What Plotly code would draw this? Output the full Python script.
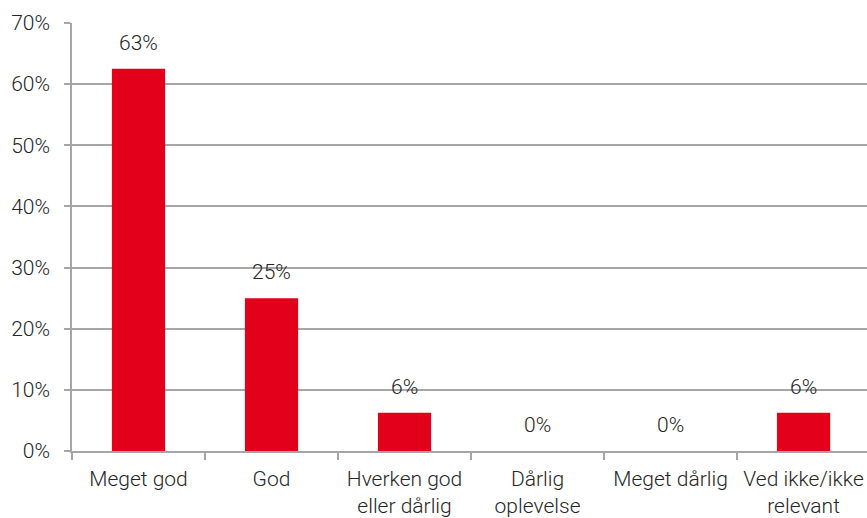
import plotly.graph_objects as go

kategorier = [
    "Meget god",
    "God",
    "Hverken god<br>eller dårlig",
    "Dårlig<br>oplevelse",
    "Meget dårlig",
    "Ved ikke/ikke<br>relevant",
]
andele = [0.625, 0.25, 0.0625, 0.0, 0.0, 0.0625]
y_ticks = [0, 0.1, 0.2, 0.3, 0.4, 0.5, 0.6, 0.7]

ROED = "#E2001A"
GRAA = "#A6A6A6"
TEKST = "#262626"
FONT = "Roboto, Inter, sans-serif"
TEKSTFONT = dict(size=21, color=TEKST, family=FONT, weight=300)

fig = go.Figure(go.Bar(
    x=kategorier, y=andele, marker_color=ROED, width=0.4,
    marker_line_width=0, hoverinfo="skip",
))

# dataetiketter over søjlerne (afrundet halvt op, som i Excel)
for kat, v in zip(kategorier, andele):
    fig.add_annotation(
        x=kat, y=v, text=f"{int(v * 100 + 0.5)}%", showarrow=False,
        yanchor="bottom", yshift=12, font=TEKSTFONT,
    )

fig.update_xaxes(
    type="category", range=[-0.5, 5.477], tickson="boundaries",
    ticks="outside", ticklen=7, tickcolor=GRAA, tickwidth=1.5,
    showline=True, linecolor=GRAA, linewidth=1.5,
    showgrid=False, automargin=False, ticklabelstandoff=8,
    tickfont=TEKSTFONT,
)
fig.update_yaxes(
    range=[0, 0.7], tickvals=y_ticks, tickformat=".0%",
    ticks="outside", ticklen=6, tickcolor=GRAA, tickwidth=1.5,
    showline=True, linecolor=GRAA, linewidth=1.5,
    showgrid=True, gridcolor=GRAA, gridwidth=1.5,
    zeroline=False, automargin=False, ticklabelstandoff=10,
    tickfont=TEKSTFONT,
)
fig.update_layout(
    width=867, height=518,
    margin=dict(l=72, r=0, t=23, b=67),
    plot_bgcolor="white", paper_bgcolor="white",
    font=dict(family=FONT, color=TEKST),
    showlegend=False, bargap=0.6,
)
# fjern browserens body-margin, så figuren fylder hele vinduet uden scrollbars
fig.write_html(
    "out.html",
    config={"displayModeBar": False},
    post_script="document.body.style.margin='0';document.body.style.overflow='hidden';",
)
